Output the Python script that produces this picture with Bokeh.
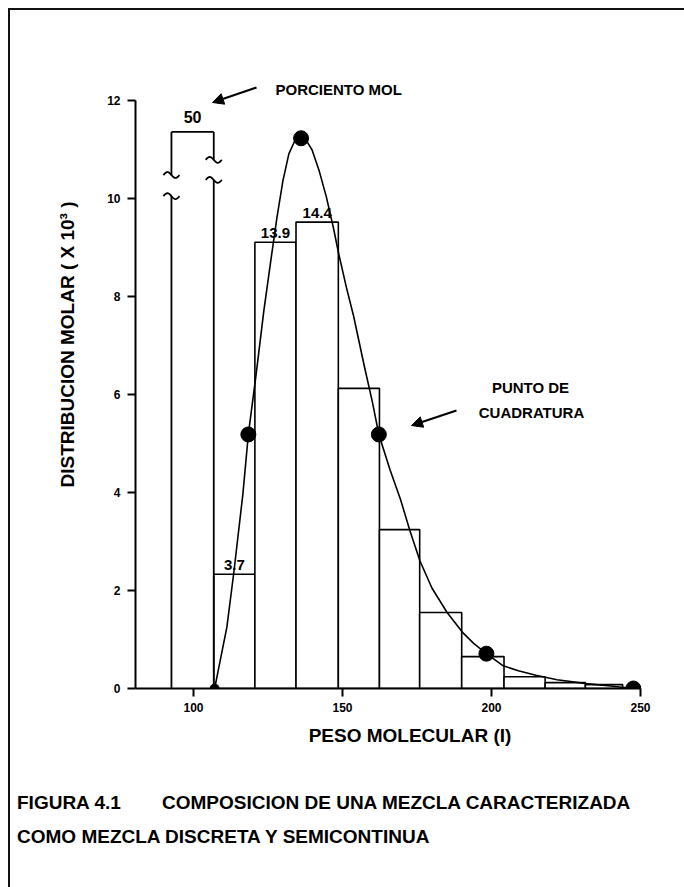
import numpy as np
from bokeh.plotting import figure
from bokeh.layouts import column
from bokeh.models import Range1d, Label, Arrow, NormalHead, FixedTicker, Div
from bokeh.core.properties import value
from bokeh.embed import file_html
from bokeh.resources import INLINE

# ---------------- data ----------------
bin_left = [106.8, 120.6, 134.4, 148.6, 162.4, 175.9, 190.0, 204.2, 218.0, 231.5]
bin_right = [120.6, 134.4, 148.6, 162.4, 175.9, 190.0, 204.2, 218.0, 231.5, 244.0]
bin_height = [2.33, 9.10, 9.51, 6.12, 3.24, 1.55, 0.65, 0.24, 0.12, 0.08]
bin_labels = ["3.7", "13.9", "14.4"]

discrete_left = 92.6
discrete_right = 106.8
discrete_height = 11.35          # off-scale bar (50 %), drawn broken
discrete_label = "50"
break_left = [10.04, 10.47]      # gap in the left edge
break_right = [10.37, 10.78]     # gap in the right edge

curve_x = [107.1, 108.5, 111.2, 113.5, 116.6, 118.4, 121.0, 123.6, 126.0, 128.0,
           130.0, 132.0, 134.0, 136.1, 138.0, 139.8, 142.2, 144.6, 147.0, 148.6,
           151.3, 153.7, 157.4, 160.0, 162.2, 166.0, 169.5, 172.6, 176.0, 180.0,
           185.1, 190.2, 194.0, 198.3, 203.7, 209.0, 214.9, 222.0, 231.8, 240.0,
           247.6]
curve_y = [0.00, 0.43, 1.25, 2.35, 3.98, 5.18, 6.40, 7.70, 8.75, 9.60,
           10.35, 10.90, 11.17, 11.22, 11.16, 10.98, 10.55, 10.02, 9.38, 8.90,
           8.18, 7.60, 6.55, 5.85, 5.18, 4.45, 3.85, 3.22, 2.60, 2.05,
           1.55, 1.15, 0.92, 0.71, 0.47, 0.36, 0.27, 0.18, 0.10, 0.05,
           0.00]

quad_x = [107.1, 118.4, 136.1, 162.2, 198.3, 247.6]
quad_y = [0.00, 5.18, 11.22, 5.18, 0.71, 0.00]

x_ticks = [100, 150, 200, 250]
y_ticks = [0, 2, 4, 6, 8, 10, 12]

x_title = "PESO MOLECULAR (I)"
y_title = "DISTRIBUCION MOLAR ( X 10\u00b3 )"
note_mol = "PORCIENTO MOL"
note_quad = ["PUNTO DE", "CUADRATURA"]
caption_a = "FIGURA 4.1"
caption_b = "COMPOSICION DE UNA MEZCLA CARACTERIZADA"
caption_c = "COMO MEZCLA DISCRETA Y SEMICONTINUA"

# ---------------- layout ----------------
W, H = 684, 887
H1 = 762                       # chart part; caption part below
FL, FB = 135, 688              # frame left / bottom (axes) in page pixels
SX = (640 - 193) / 150.0       # px per x unit
SY = (688 - 99.5) / 12.0       # px per y unit
X0 = 100 - (193 - FL) / SX
X1 = X0 + (W - FL) / SX
Y0 = 0.0
Y1 = FB / SY

FONT = value("Liberation Sans")

def px2x(px):
    return X0 + (px - FL) / SX

def px2y(py):
    return (FB - py) / SY

p = figure(width=W, height=H1, output_backend="svg", toolbar_location=None,
           x_range=Range1d(X0, X1), y_range=Range1d(Y0, Y1),
           min_border_left=FL, min_border_right=0,
           min_border_top=0, min_border_bottom=H1 - FB,
           background_fill_color=None, border_fill_color=None)
p.outline_line_color = None
p.grid.visible = False

for ax in (p.xaxis[0], p.yaxis[0]):
    ax.axis_line_width = 2
    ax.axis_line_color = "black"
    ax.major_tick_line_width = 2
    ax.major_tick_line_color = "black"
    ax.major_tick_in = 0
    ax.major_tick_out = 8
    ax.minor_tick_line_color = None
    ax.major_label_text_font = "Liberation Sans"
    ax.major_label_text_font_style = "bold"
    ax.major_label_text_font_size = "12px"
    ax.major_label_text_color = "black"
    ax.axis_label_text_font = "Liberation Sans"
    ax.axis_label_text_font_style = "bold"
    ax.axis_label_text_font_size = "19px"
    ax.axis_label_text_color = "black"

p.xaxis[0].ticker = FixedTicker(ticks=x_ticks)
p.yaxis[0].ticker = FixedTicker(ticks=y_ticks)
p.xaxis[0].bounds = (X0, x_ticks[-1])
p.yaxis[0].bounds = (y_ticks[0], y_ticks[-1])
p.xaxis[0].axis_label = x_title
p.yaxis[0].axis_label = y_title
p.xaxis[0].major_label_standoff = 6
p.yaxis[0].major_label_standoff = 7
p.xaxis[0].axis_label_standoff = 10
p.yaxis[0].axis_label_standoff = 26

# ---------------- histogram bins ----------------
p.quad(left=bin_left, right=bin_right, bottom=0, top=bin_height,
       fill_color="white", line_color="black", line_width=1.6)

# ---------------- broken discrete bar ----------------
L, R, Hd = discrete_left, discrete_right, discrete_height
p.segment(x0=[L, L, R, R, L], y0=[0, break_left[1], 0, break_right[1], Hd],
          x1=[L, L, R, R, R], y1=[break_left[0], Hd, break_right[0], Hd, Hd],
          line_color="black", line_width=1.8)

t = np.linspace(-1, 1, 21)
half_w = 2.7
amp = 0.06
for edge, brks in ((L, break_left), (R, break_right)):
    for yb in brks:
        p.line(edge + half_w * t, yb - amp * np.sin(np.pi * t),
               line_color="black", line_width=1.8)

# ---------------- semicontinuous curve + quadrature points ----------------
p.line(curve_x, curve_y, line_color="black", line_width=1.6)
p.scatter(quad_x[1:], quad_y[1:], size=15, color="black")
p.scatter(quad_x[:1], quad_y[:1], size=9, color="black")

# ---------------- bar value labels ----------------
centers = [(a + b) / 2 for a, b in zip(bin_left, bin_right)]
p.text(x=centers[:3], y=bin_height[:3], text=bin_labels,
       text_font=FONT, text_font_style="bold", text_font_size="15px",
       text_align="center", text_baseline="bottom", y_offset=-4,
       text_color="black")
p.text(x=[(L + R) / 2], y=[Hd], text=[discrete_label],
       text_font=FONT, text_font_style="bold", text_font_size="16px",
       text_align="center", text_baseline="bottom", y_offset=-9,
       text_color="black")

# ---------------- annotations ----------------
def lab(fig, txt, x, y, size, align="left"):
    fig.add_layout(Label(x=x, y=y, text=txt,
                         text_font="Liberation Sans", text_font_style="bold",
                         text_font_size=size, text_align=align,
                         text_baseline="middle", text_color="black"))

lab(p, note_mol, px2x(275), px2y(89), "15px")
lab(p, note_quad[0], px2x(530), px2y(387), "15px", "center")
lab(p, note_quad[1], px2x(531), px2y(412), "15px", "center")

head = dict(size=11, fill_color="black", line_color="black")
p.add_layout(Arrow(end=NormalHead(**head), line_width=2,
                   x_start=px2x(256), y_start=px2y(87),
                   x_end=px2x(212), y_end=px2y(102)))
p.add_layout(Arrow(end=NormalHead(**head), line_width=2,
                   x_start=px2x(456), y_start=px2y(410),
                   x_end=px2x(411), y_end=px2y(425)))

# ---------------- caption strip ----------------
H2 = H - H1
span = ("position:absolute;white-space:pre;font-family:'Liberation Sans';"
        "font-weight:bold;font-size:19px;line-height:19px;color:#000;")
cap_html = (
    f'<div style="position:relative;width:{W}px;height:{H2}px;">'
    f'<span style="{span}left:17px;top:{803 - H1 - 10}px;">{caption_a}</span>'
    f'<span style="{span}left:162px;top:{803 - H1 - 10}px;">{caption_b}</span>'
    f'<span style="{span}left:17px;top:{837 - H1 - 10}px;">{caption_c}</span>'
    '</div>')
cap = Div(text=cap_html, width=W, height=H2, margin=0)

page_frame = ("linear-gradient(#111,#111) 8px 8px / 2px calc(100% - 8px) no-repeat, "
              "linear-gradient(#111,#111) 8px 8px / calc(100% - 8px) 2px no-repeat, white")
layout = column(p, cap, spacing=0, styles={"background": page_frame})

open("out.html", "w").write(file_html(layout, INLINE))
